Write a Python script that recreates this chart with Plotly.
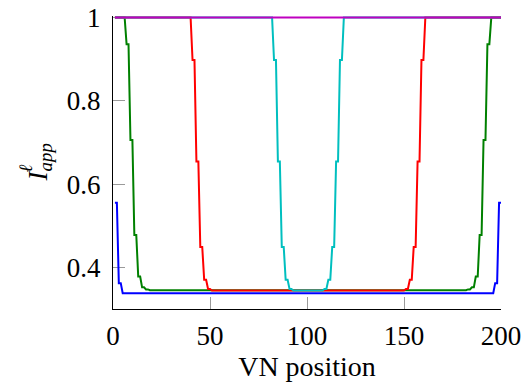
import plotly.graph_objects as go

# VN positions / I_app values at breakpoints (flat runs between them)
vn_blue = [1, 2, 3, 4, 5, 196, 197, 198, 199, 200]
i_blue = [0.555, 0.555, 0.362, 0.362, 0.338, 0.338, 0.362, 0.362, 0.555, 0.555]

vn_green = [1, 6, 7, 8, 9, 10, 11, 12, 13, 14, 15, 16, 17, 18, 19,
            182, 183, 184, 185, 186, 187, 188, 189, 190, 191, 192, 193, 194, 195, 200]
i_green = [1, 1, 0.936, 0.936, 0.706, 0.706, 0.478, 0.478, 0.378, 0.378, 0.352, 0.352, 0.347, 0.347, 0.345,
           0.345, 0.347, 0.347, 0.352, 0.352, 0.378, 0.378, 0.478, 0.478, 0.706, 0.706, 0.936, 0.936, 1, 1]

vn_red = [1, 40, 41, 42, 43, 44, 45, 46, 47, 48, 49, 50, 51, 52, 53,
          148, 149, 150, 151, 152, 153, 154, 155, 156, 157, 158, 159, 160, 161, 200]
i_red = [1, 1, 0.898, 0.898, 0.654, 0.654, 0.449, 0.449, 0.37, 0.37, 0.348, 0.348, 0.3445, 0.3445, 0.3435,
         0.3435, 0.3445, 0.3445, 0.348, 0.348, 0.37, 0.37, 0.449, 0.449, 0.654, 0.654, 0.898, 0.898, 1, 1]

vn_cyan = [1, 82, 83, 84, 85, 86, 87, 88, 89, 90, 91, 92, 93, 94, 95,
           106, 107, 108, 109, 110, 111, 112, 113, 114, 115, 116, 117, 118, 119, 200]
i_cyan = [1, 1, 0.898, 0.898, 0.654, 0.654, 0.449, 0.449, 0.37, 0.37, 0.348, 0.348, 0.3445, 0.3445, 0.3435,
          0.3435, 0.3445, 0.3445, 0.348, 0.348, 0.37, 0.37, 0.449, 0.449, 0.654, 0.654, 0.898, 0.898, 1, 1]

vn_magenta = [1, 200]
i_magenta = [1, 1]

x_ticks = [0, 50, 100, 150, 200]
y_ticks = [0.4, 0.6, 0.8, 1]
y_tick_text = ["0.4", "0.6", "0.8", "1"]

series = [
    (vn_blue, i_blue, "#0000ff"),
    (vn_green, i_green, "#008000"),
    (vn_red, i_red, "#ff0000"),
    (vn_cyan, i_cyan, "#00bfbf"),
    (vn_magenta, i_magenta, "#bf00bf"),
]

FONT = "Liberation Serif, Times New Roman, serif"

fig = go.Figure()
for xs, ys, col in series:
    fig.add_trace(go.Scatter(x=xs, y=ys, mode="lines",
                             line=dict(color=col, width=2), showlegend=False))

axis_common = dict(
    showgrid=False, zeroline=False, showline=True, linecolor="black", linewidth=1.3,
    ticks="inside", ticklen=12, tickwidth=1, tickcolor="#9a9a9a",
    tickfont=dict(family=FONT, size=27, color="black"), layer="below traces",
    automargin=False, ticklabeloverflow="allow",
)

fig.update_layout(
    width=524, height=387,
    margin=dict(l=112.5, r=23, t=16, b=78),
    paper_bgcolor="white", plot_bgcolor="white",
    xaxis=dict(range=[0, 200], tickvals=x_ticks, ticklabelstandoff=2,
               title=dict(text="VN position", font=dict(family=FONT, size=28, color="black"), standoff=5),
               **axis_common),
    yaxis=dict(range=[0.3, 1.0036], tickvals=y_ticks, ticktext=y_tick_text, ticklabelstandoff=6,
               **axis_common),
    annotations=[
        dict(text="<i>I</i><sub><i>app</i></sub>", xref="paper", yref="paper", x=0, y=0.5,
             xanchor="center", yanchor="middle", xshift=-74, textangle=-90, showarrow=False,
             font=dict(family=FONT, size=27, color="black")),
        dict(text="<i>ℓ</i>", xref="paper", yref="paper", x=0, y=0.5,
             xanchor="center", yanchor="middle", xshift=-88, yshift=-6, textangle=-90, showarrow=False,
             font=dict(family=FONT, size=19, color="black")),
    ],
)

fig.write_html("out.html", config={"displayModeBar": False},
               post_script="document.body.style.margin='0';")
